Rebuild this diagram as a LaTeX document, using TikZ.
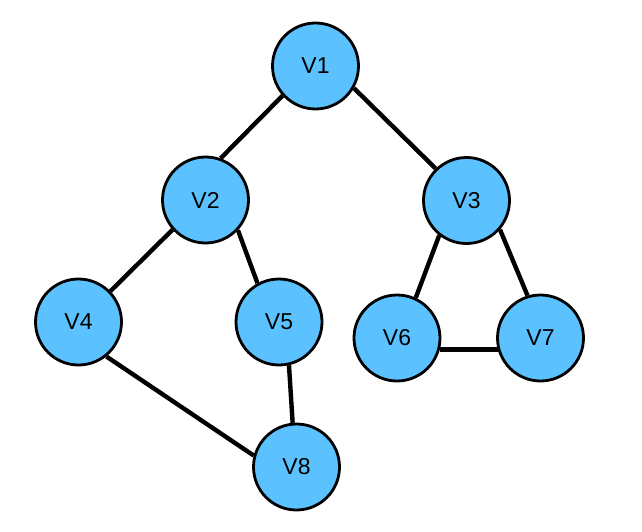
\documentclass[tikz,border=0pt]{standalone}
\usepackage{fontspec}
\setmainfont{Liberation Sans}
\definecolor{nodeblue}{RGB}{91,194,255}
\begin{document}
\begin{tikzpicture}[x=1pt,y=-1pt,
  vertex/.style={circle,draw=black,line width=2.8pt,fill=nodeblue,minimum size=86pt,inner sep=0pt,font=\fontsize{23}{27}\selectfont},
  edge/.style={line width=4.4pt,black}]
\useasboundingbox (0,0) rectangle (642,532);
\node[vertex] (V1) at (315.5,66) {V1};
\node[vertex] (V2) at (205.5,200) {V2};
\node[vertex] (V3) at (466.5,200.5) {V3};
\node[vertex] (V4) at (78.5,322) {V4};
\node[vertex] (V5) at (279,322) {V5};
\node[vertex] (V6) at (397,338) {V6};
\node[vertex] (V7) at (540.5,338) {V7};
\node[vertex] (V8) at (296.5,467) {V8};
\draw[edge] (V1.222) -- (V2.70);
\draw[edge] (V1.-30) -- (V3.134);
\draw[edge] (V2.-138) -- (V4.44);
\draw[edge] (V2.-43) -- (V5.119);
\draw[edge] (V3.-128) -- (V6.65);
\draw[edge] (V3.-41) -- (V7.107);
\draw[edge] (V6.-15) -- (V7.-165);
\draw[edge] (V4.-51) -- (V8.165);
\draw[edge] (V5.-77) -- (V8.95);
\end{tikzpicture}
\end{document}
